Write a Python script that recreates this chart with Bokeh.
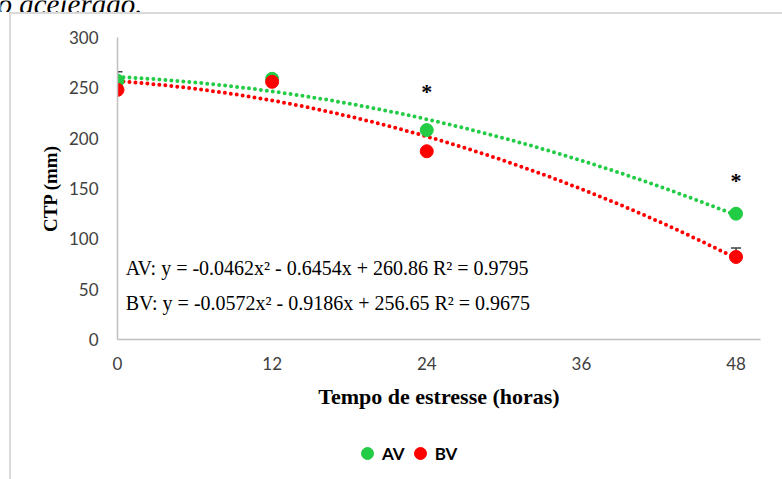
import numpy as np
from bokeh.plotting import figure
from bokeh.layouts import column
from bokeh.models import (Range1d, Whisker, ColumnDataSource, Legend, LegendItem,
                          TeeHead, FixedTicker)
from bokeh.core.properties import value
from bokeh.embed import file_html
from bokeh.resources import INLINE

# ---- data ----
hours = [0, 12, 24, 48]
av_ctp = [257, 259, 208, 125]
bv_ctp = [248, 256, 187, 82]
av_err = [9, 4, 0, 0]
bv_err = [0, 0, 0, 9]
av_coef = [-0.0462, -0.6454, 260.86]
bv_coef = [-0.0572, -0.9186, 256.65]
av_eq = "AV: y = -0.0462x\u00b2 - 0.6454x + 260.86 R\u00b2 = 0.9795"
bv_eq = "BV: y = -0.0572x\u00b2 - 0.9186x + 256.65 R\u00b2 = 0.9675"
star_hours = [24, 48]
star_ctp = [246, 158]
x_ticks = [0, 12, 24, 36, 48]
y_ticks = [0, 50, 100, 150, 200, 250, 300]
series_names = ["AV", "BV"]
caption = "o acelerado."

GREEN = "#22CC44"
RED = "#FF0000"
AXIS_GRAY = "#BFBFBF"
TICK_COLOR = "#404040"
FRAME_GRAY = "#D9D9D9"
VLINE = f"linear-gradient({FRAME_GRAY},{FRAME_GRAY})"

# ---- strip with the (cut-off) caption above the chart ----
p0 = figure(width=782, height=12, output_backend="svg", toolbar_location=None,
            x_range=Range1d(0, 782), y_range=Range1d(0, 12),
            x_axis_type=None, y_axis_type=None, min_border=0, frame_align=False)
p0.outline_line_color = None
p0.grid.visible = False
p0.text(x=[-3], y=[9], text=[caption], text_align="left", text_baseline="alphabetic",
        text_font=value("Liberation Serif"), text_font_style="italic",
        text_font_size="29px", text_color="black")

# ---- main chart ----
p = figure(width=782, height=408, output_backend="svg", toolbar_location=None,
           x_range=Range1d(0, 49.9), y_range=Range1d(0, 300),
           min_border_left=117, min_border_right=22, min_border_top=25,
           min_border_bottom=81, frame_align=False)
p.outline_line_color = None
p.border_fill_color = None
p.background_fill_color = "white"
p.xgrid.visible = False
p.ygrid.visible = False
p.styles = {
    "background-color": "white",
    "background-image": f"{VLINE}, {VLINE}",
    "background-size": "2px 100%, 100% 2px",
    "background-position": "9px 0px, 9px 0px",
    "background-repeat": "no-repeat",
}

for ax in (p.xaxis, p.yaxis):
    ax.axis_line_color = AXIS_GRAY
    ax.axis_line_width = 1.5
    ax.major_tick_line_color = None
    ax.minor_tick_line_color = None
    ax.major_label_text_font = "Lato"
    ax.major_label_text_font_size = "17px"
    ax.major_label_text_color = TICK_COLOR
    ax.axis_label_text_font = "Liberation Serif"
    ax.axis_label_text_font_style = "bold"
    ax.axis_label_text_color = "black"

p.xaxis.ticker = FixedTicker(ticks=x_ticks)
p.yaxis.ticker = FixedTicker(ticks=y_ticks)
p.xaxis.major_label_standoff = 11
p.yaxis.major_label_standoff = 13
p.xaxis.axis_label = "Tempo de estresse (horas)"
p.yaxis.axis_label = "CTP (mm)"
p.xaxis.axis_label_text_font_size = "22px"
p.yaxis.axis_label_text_font_size = "19px"
p.xaxis.axis_label_standoff = 11
p.yaxis.axis_label_standoff = 5

# trend lines
xs = np.linspace(0, 48, 200)
av_fit = np.polyval(av_coef, xs)
bv_fit = np.polyval(bv_coef, xs)
p.line(xs, av_fit, line_color=GREEN, line_width=4, line_dash="0 6", line_cap="round")
p.line(xs, bv_fit, line_color=RED, line_width=4, line_dash="0 6", line_cap="round")

# error bars
src_av = ColumnDataSource(dict(x=hours, y=av_ctp, up=[v + e for v, e in zip(av_ctp, av_err)]))
src_bv = ColumnDataSource(dict(x=hours, y=bv_ctp, up=[v + e for v, e in zip(bv_ctp, bv_err)]))
for src in (src_av, src_bv):
    w = Whisker(source=src, base="x", lower="y", upper="up", line_color="#404040",
                line_width=1.5, lower_head=None,
                upper_head=TeeHead(size=10, line_color="#404040", line_width=1.5),
                level="underlay")
    p.add_layout(w)

p.scatter("x", "y", source=src_av, size=13, color=GREEN)
p.scatter("x", "y", source=src_bv, size=13, color=RED)

# significance asterisks
p.text(x=star_hours, y=star_ctp, text=["*"] * len(star_hours), text_align="center",
       text_baseline="middle", text_font=value("Liberation Serif"),
       text_font_style="bold", text_font_size="22px", text_color="black")

# equations
p.text(x=[0.64, 0.64], y=[70.8, 36.0], text=[av_eq, bv_eq], text_align="left",
       text_baseline="middle", text_font=value("Liberation Serif"),
       text_font_size="20px", text_color="black")

# ---- legend strip ----
p2 = figure(width=782, height=59, output_backend="svg", toolbar_location=None,
            x_range=Range1d(0, 1), y_range=Range1d(0, 1),
            x_axis_type=None, y_axis_type=None, min_border=0, frame_align=False)
p2.outline_line_color = None
p2.grid.visible = False
p2.border_fill_color = None
p2.background_fill_color = None
p2.styles = {
    "background-color": "white",
    "background-image": VLINE,
    "background-size": "2px 100%",
    "background-position": "9px 0px",
    "background-repeat": "no-repeat",
}
# the series' own points, lying outside this strip's ranges: only their legend shows
l_av = p2.scatter(hours, av_ctp, size=13, color=GREEN)
l_bv = p2.scatter(hours, bv_ctp, size=13, color=RED)
legend = Legend(items=[LegendItem(label=series_names[0], renderers=[l_av]),
                       LegendItem(label=series_names[1], renderers=[l_bv])],
                orientation="horizontal", location=(352, 11),
                glyph_width=30, glyph_height=30, label_standoff=0, spacing=0,
                padding=0, margin=0, border_line_alpha=0, background_fill_alpha=0,
                label_text_font="Lato", label_text_font_style="bold",
                label_text_font_size="17px", label_text_color="black")
p2.add_layout(legend, "center")

layout = column(p0, p, p2, spacing=0)
open("out.html", "w").write(file_html(layout, INLINE))
